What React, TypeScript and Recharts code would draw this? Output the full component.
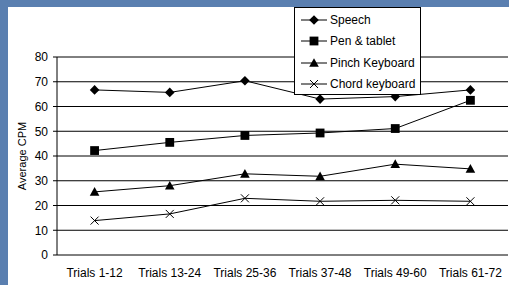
import React from "react";
import {
  LineChart,
  Line,
  XAxis,
  YAxis,
  CartesianGrid,
} from "recharts";

const categories = [
  "Trials 1-12",
  "Trials 13-24",
  "Trials 25-36",
  "Trials 37-48",
  "Trials 49-60",
  "Trials 61-72",
];
const speech = [66.7, 65.7, 70.4, 63.0, 64.0, 66.7];
const penTablet = [42.2, 45.5, 48.3, 49.3, 51.1, 62.5];
const pinchKeyboard = [25.5, 28.0, 32.8, 31.8, 36.7, 34.8];
const chordKeyboard = [13.9, 16.6, 22.9, 21.7, 22.1, 21.7];
const yTicks = [0, 10, 20, 30, 40, 50, 60, 70, 80];

const series = [
  { key: "speech", name: "Speech", shape: "diamond" },
  { key: "pen", name: "Pen & tablet", shape: "square" },
  { key: "pinch", name: "Pinch Keyboard", shape: "triangle" },
  { key: "chord", name: "Chord keyboard", shape: "cross" },
];

const data = categories.map((c, i) => ({
  pos: i + 0.5,
  label: c,
  speech: speech[i],
  pen: penTablet[i],
  pinch: pinchKeyboard[i],
  chord: chordKeyboard[i],
}));

const boundaryTicks = categories.map((_, i) => i).concat([categories.length]);
const centerTicks = categories.map((_, i) => i + 0.5);

function Marker({ cx, cy, shape }: { cx: number; cy: number; shape: string }) {
  if (cx == null || cy == null) return <g />;
  if (shape === "diamond") {
    const r = 4.8;
    return (
      <polygon
        points={`${cx},${cy - r} ${cx + r},${cy} ${cx},${cy + r} ${cx - r},${cy}`}
        fill="#000"
      />
    );
  }
  if (shape === "square") {
    const r = 4.4;
    return <rect x={cx - r} y={cy - r} width={2 * r} height={2 * r} fill="#000" />;
  }
  if (shape === "triangle") {
    const r = 4.8;
    return (
      <polygon
        points={`${cx},${cy - r} ${cx + r},${cy + r * 0.8} ${cx - r},${cy + r * 0.8}`}
        fill="#000"
      />
    );
  }
  const r = 4;
  return (
    <g stroke="#000" strokeWidth={1}>
      <line x1={cx - r} y1={cy - r} x2={cx + r} y2={cy + r} />
      <line x1={cx - r} y1={cy + r} x2={cx + r} y2={cy - r} />
    </g>
  );
}

function LegendBox() {
  return (
    <div
      style={{
        position: "absolute",
        left: 286,
        top: 0,
        border: "1px solid #000",
        background: "#fff",
        width: 127,
        height: 88,
        boxSizing: "border-box",
        fontFamily: "'Liberation Sans', Arial, sans-serif",
        fontSize: 12,
        color: "#000",
        paddingTop: 1,
      }}
    >
      {series.map((s) => (
        <div
          key={s.key}
          style={{ display: "flex", alignItems: "center", height: 21.5 }}
        >
          <svg width={35} height={14} style={{ flex: "none" }}>
            <line x1={6} y1={7} x2={32} y2={7} stroke="#000" strokeWidth={1} />
            <Marker cx={19} cy={7} shape={s.shape} />
          </svg>
          <span style={{ whiteSpace: "nowrap" }}>{s.name}</span>
        </div>
      ))}
    </div>
  );
}

const tickStyle = {
  fontFamily: "'Liberation Sans', Arial, sans-serif",
  fontSize: 12,
  fill: "#000",
};

export default function App() {
  return (
    <div
      style={{
        position: "fixed",
        left: 0,
        top: 0,
        width: 509,
        height: 285,
        background: "#5a7fb0",
      }}
    >
      <div
        style={{
          position: "absolute",
          left: 8,
          top: 7,
          width: 501,
          height: 278,
          background: "#fff",
        }}
      >
        <LineChart
          width={501}
          height={278}
          data={data}
          margin={{ top: 50, right: 1, bottom: 0, left: 0 }}
        >
          <CartesianGrid
            vertical={false}
            stroke="#000"
            strokeWidth={1}
            xAxisId="ticks"
          />
          <XAxis
            xAxisId="ticks"
            dataKey="pos"
            type="number"
            domain={[0, categories.length]}
            ticks={boundaryTicks}
            interval={0}
            height={0}
            tickFormatter={() => ""}
            tickSize={4}
            stroke="#000"
            axisLine={{ stroke: "#000" }}
            tickLine={{ stroke: "#000" }}
          />
          <XAxis
            xAxisId="labels"
            dataKey="pos"
            type="number"
            domain={[0, categories.length]}
            ticks={centerTicks}
            interval={0}
            height={30}
            axisLine={false}
            tickLine={false}
            tickSize={0}
            tickMargin={13}
            tickFormatter={(v: number) => categories[Math.floor(v)]}
            tick={tickStyle}
          />
          <YAxis
            domain={[0, 80]}
            ticks={yTicks}
            interval={0}
            width={49}
            tickSize={4}
            tickMargin={5}
            tick={tickStyle}
            axisLine={{ stroke: "#000" }}
            tickLine={{ stroke: "#000" }}
            label={{
              value: "Average CPM",
              angle: -90,
              position: "insideLeft",
              offset: 14,
              style: {
                fontFamily: "'Liberation Sans', Arial, sans-serif",
                fontSize: 11,
                fill: "#000",
                textAnchor: "middle",
              },
            }}
          />
          {series.map((s) => (
            <Line
              key={s.key}
              xAxisId="ticks"
              dataKey={s.key}
              name={s.name}
              stroke="#000"
              strokeWidth={1}
              isAnimationActive={false}
              dot={(p: any) => (
                <Marker key={`${s.key}-${p.index}`} cx={p.cx} cy={p.cy} shape={s.shape} />
              )}
              activeDot={false}
            />
          ))}
        </LineChart>
        <LegendBox />
      </div>
    </div>
  );
}
